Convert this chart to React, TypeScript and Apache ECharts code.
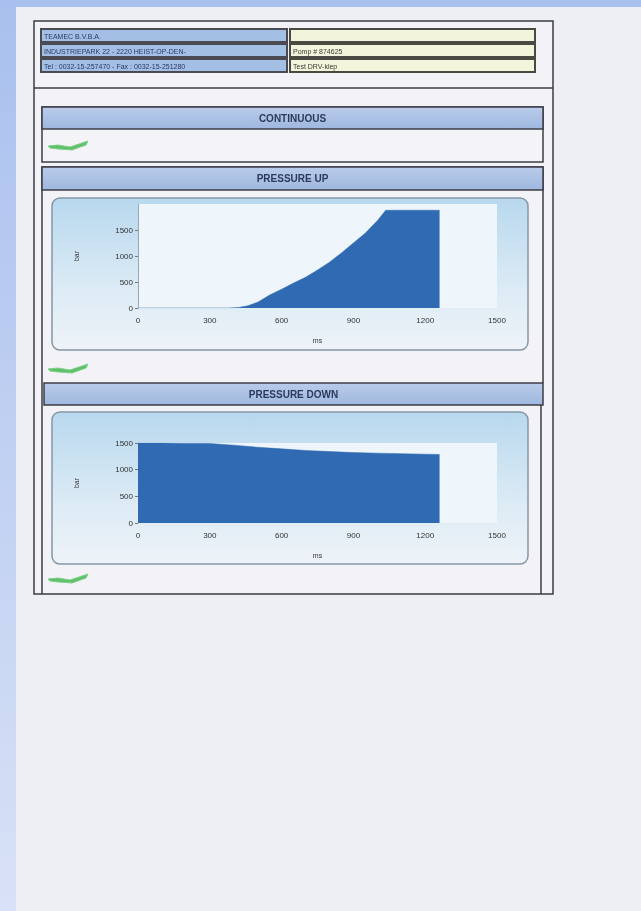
import React, { useEffect, useRef } from "react";
import * as echarts from "echarts";

const headerLeft = [
  "TEAMEC B.V.B.A.",
  "INDUSTRIEPARK 22 - 2220 HEIST-OP-DEN-",
  "Tel : 0032-15-257470 - Fax : 0032-15-251280",
];
const headerRight = ["", "Pomp # 874625", "Test DRV-klep"];
const sectionTitles = ["CONTINUOUS", "PRESSURE UP", "PRESSURE DOWN"];

const xTicks = [0, 300, 600, 900, 1200, 1500];

// Pressure up: [ms, bar]
const pressureUp: [number, number][] = [
  [0, 0], [100, 0], [200, 0], [300, 0], [380, 0], [420, 10], [460, 45],
  [500, 110], [550, 250], [600, 360], [650, 480], [700, 590], [750, 730],
  [800, 880], [850, 1060], [900, 1250], [950, 1440], [1000, 1680],
  [1035, 1880], [1100, 1880], [1200, 1880], [1260, 1880],
];

// Pressure down: [ms, bar]
const pressureDown: [number, number][] = [
  [0, 1500], [100, 1500], [200, 1490], [300, 1490], [400, 1460],
  [500, 1420], [600, 1390], [700, 1360], [800, 1340], [900, 1320],
  [1000, 1310], [1100, 1300], [1200, 1290], [1260, 1285],
];

const FONT = "'Liberation Sans', Arial, sans-serif";
const AREA = "#2f6ab3";
const FRAME = "#3c3c44";

function swoosh(x: number, y: number): any {
  return {
    type: "polygon",
    z: -1,
    shape: {
      points: [
        [x, y], [x + 10, y - 1], [x + 22, y + 1], [x + 34, y - 3], [x + 40, y - 5],
        [x + 38, y - 1], [x + 24, y + 4], [x + 10, y + 3], [x + 2, y + 2],
      ],
    },
    style: { fill: "#5fbf6a", stroke: "#7fd08a", lineWidth: 1 },
  };
}

function sectionHeader(x: number, y: number, w: number, h: number, title: string): any[] {
  return [
    {
      type: "rect", z: -1,
      shape: { x, y, width: w, height: h },
      style: {
        fill: new echarts.graphic.LinearGradient(0, 0, 0, 1, [
          { offset: 0, color: "#b9cbea" },
          { offset: 1, color: "#9fb8df" },
        ]),
        stroke: FRAME, lineWidth: 1.5,
      },
    },
    {
      type: "text", z: -1,
      style: {
        x: x + w / 2, y: y + h / 2, text: title, align: "center", verticalAlign: "middle",
        fill: "#2b3a5c", font: `bold 10px ${FONT}`,
      },
    },
  ];
}

function chartPanel(y: number): any[] {
  return [
    {
      type: "rect", z: -1,
      shape: { x: 52, y, width: 476, height: 152, r: 8 },
      style: {
        fill: new echarts.graphic.LinearGradient(0, 0, 0, 1, [
          { offset: 0, color: "#b8d8ee" },
          { offset: 0.6, color: "#dcebf5" },
          { offset: 1, color: "#eef3f8" },
        ]),
        stroke: "#8596a6", lineWidth: 1.5,
      },
    },
  ];
}

function headerCells(): any[] {
  const out: any[] = [];
  const rowsY = [29, 44, 59];
  rowsY.forEach((ry, i) => {
    out.push({
      type: "rect", z: -1,
      shape: { x: 41, y: ry, width: 246, height: 13 },
      style: { fill: "#a3bfe4", stroke: "#4a4a52", lineWidth: 2 },
    });
    out.push({
      type: "text", z: -1,
      style: {
        x: 44, y: ry + 7, text: headerLeft[i], verticalAlign: "middle",
        fill: "#2a3866", font: `7px ${FONT}`,
      },
    });
    out.push({
      type: "rect", z: -1,
      shape: { x: 290, y: ry, width: 245, height: 13 },
      style: { fill: "#f3f4dc", stroke: "#4a4a42", lineWidth: 2 },
    });
    out.push({
      type: "text", z: -1,
      style: {
        x: 293, y: ry + 7, text: headerRight[i], verticalAlign: "middle",
        fill: "#3a3a30", font: `7px ${FONT}`,
      },
    });
  });
  return out;
}

export default function App() {
  const ref = useRef<HTMLDivElement>(null);
  useEffect(() => {
    if (!ref.current) return;
    const chart = echarts.init(ref.current, undefined, { renderer: "svg" });

    const graphics: any[] = [
      // page background
      { type: "rect", z: -1, shape: { x: 0, y: 0, width: 641, height: 911 }, style: { fill: "#eeeef5" } },
      { type: "rect", z: -1, shape: { x: 0, y: 0, width: 641, height: 7 }, style: { fill: "#a9c0ee" } },
      {
        type: "rect", z: -1, shape: { x: 0, y: 0, width: 16, height: 911 },
        style: {
          fill: new echarts.graphic.LinearGradient(0, 0, 0, 1, [
            { offset: 0, color: "#a9c0ee" },
            { offset: 1, color: "#d8e1f6" },
          ]),
        },
      },
      // outer frame
      { type: "rect", z: -1, shape: { x: 34, y: 21, width: 519, height: 573 }, style: { fill: "#f3f3f7", stroke: FRAME, lineWidth: 1.5 } },
      { type: "line", z: -1, shape: { x1: 34, y1: 88, x2: 553, y2: 88 }, style: { stroke: FRAME, lineWidth: 1.5 } },
      ...headerCells(),
      // continuous section
      { type: "rect", z: -1, shape: { x: 42, y: 107, width: 501, height: 55 }, style: { fill: "#f4f4f8", stroke: FRAME, lineWidth: 1.5 } },
      ...sectionHeader(42, 107, 501, 22, sectionTitles[0]),
      swoosh(48, 146),
      // pressure up section
      { type: "polyline", z: -1, shape: { points: [[42, 594], [42, 167], [543, 167], [543, 383]] }, style: { stroke: FRAME, lineWidth: 1.5, fill: null } },
      ...sectionHeader(42, 167, 501, 23, sectionTitles[1]),
      ...chartPanel(198),
      swoosh(48, 369),
      // pressure down section
      ...sectionHeader(44, 383, 499, 22, sectionTitles[2]),
      { type: "line", z: -1, shape: { x1: 541, y1: 405, x2: 541, y2: 594 }, style: { stroke: FRAME, lineWidth: 1.5 } },
      ...chartPanel(412),
      swoosh(48, 579),
    ];

    const plain = (v: number) => String(v);

    const xAxisBase = (gridIndex: number) => ({
      type: "value",
      gridIndex,
      min: xTicks[0],
      max: xTicks[xTicks.length - 1],
      interval: 300,
      name: "ms",
      nameLocation: "middle",
      nameGap: 29,
      nameTextStyle: { fontSize: 7, color: "#333", fontFamily: FONT },
      axisLine: { show: false },
      axisTick: { show: false },
      splitLine: { show: false },
      axisLabel: { fontSize: 8, color: "#333", fontFamily: FONT, margin: 8, formatter: plain },
    });
    const yAxisBase = (gridIndex: number, max: number) => ({
      type: "value",
      gridIndex,
      min: 0,
      max,
      interval: 500,
      name: "bar",
      nameLocation: "middle",
      nameGap: 58,
      nameTextStyle: { fontSize: 7, color: "#333", fontFamily: FONT },
      axisLine: { show: true, lineStyle: { color: "#9aa6b0" } },
      axisTick: { show: true, length: 3, lineStyle: { color: "#777" } },
      splitLine: { show: false },
      axisLabel: { fontSize: 8, color: "#333", fontFamily: FONT, margin: 5, showMaxLabel: max === 1500, formatter: plain },
    });

    chart.setOption({
      animation: false,
      graphic: graphics,
      grid: [
        { left: 138, top: 204, width: 359, height: 104, show: true, backgroundColor: "#eef5fb", borderWidth: 0 },
        { left: 138, top: 443, width: 359, height: 80, show: true, backgroundColor: "#eef5fb", borderWidth: 0 },
      ],
      xAxis: [xAxisBase(0), xAxisBase(1)],
      yAxis: [yAxisBase(0, 2000), yAxisBase(1, 1500)],
      series: [
        {
          type: "line", xAxisIndex: 0, yAxisIndex: 0, data: pressureUp,
          showSymbol: false, lineStyle: { width: 0.5, color: AREA },
          areaStyle: { color: AREA, opacity: 1 },
        },
        {
          type: "line", xAxisIndex: 1, yAxisIndex: 1, data: pressureDown,
          showSymbol: false, lineStyle: { width: 0.5, color: AREA },
          areaStyle: { color: AREA, opacity: 1 },
        },
      ],
    });
    return () => chart.dispose();
  }, []);

  return (
    <div
      ref={ref}
      style={{ position: "fixed", left: 0, top: 0, width: 641, height: 911 }}
    />
  );
}
